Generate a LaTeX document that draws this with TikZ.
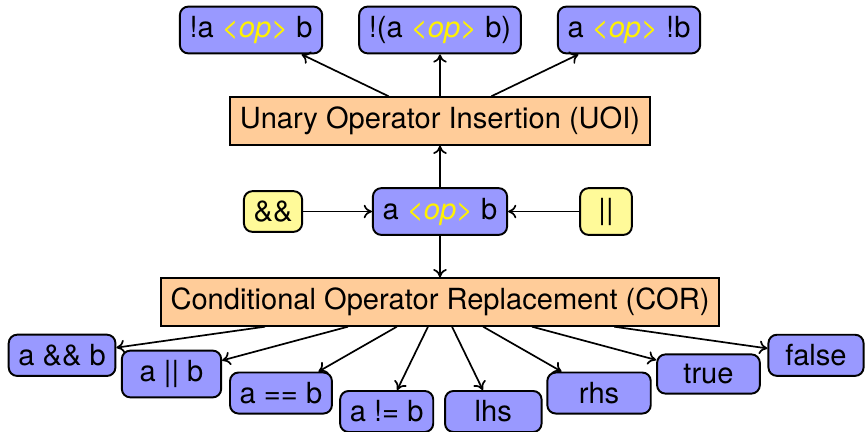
\documentclass[tikz,border=0pt]{standalone}
\usepackage{fontspec}
\setmainfont{TeX Gyre Heros}
\usepackage{xcolor}
\usetikzlibrary{arrows.meta,positioning}
\newcommand{\opsym}{\textcolor{yellow}{\textit{<op>}}}
\tikzset{operbox/.style={draw=black,fill=orange!40,thick,inner sep=4pt,font=\large},exprbox/.style={draw=black,fill=blue!40,thick,rounded corners=3.5pt,inner sep=4pt,font=\large},tokbox/.style={draw=black,fill=yellow!40,thick,rounded corners=3.5pt,inner sep=4pt,minimum width=.75cm,font=\large},resbox/.style={exprbox,minimum width=1.4cm},link/.style={draw=black,line width=.7pt,-{To[length=3.4pt,width=5.6pt]}}}

\begin{document}
\begin{tikzpicture}
\useasboundingbox (0,0) rectangle (12.586,-6.264);
% the two operator classes
\node[operbox] (uoi) at (6.38,-1.755) {Unary Operator Insertion (UOI)};
\node[operbox] (cor) at (6.38,-4.379) {Conditional Operator Replacement (COR)};
% original expression and its operators
\node[exprbox] (expr) at (6.38,-3.067) {a \opsym{} b};
\node[tokbox] (andop) at (3.959,-3.067) {\&\&};
\node[tokbox] (orop) at (8.787,-3.067) {||};
% UOI mutants
\node[exprbox] (negl) at (3.64,-.435) {!a \opsym{} b};
\node[exprbox] (negall) at (6.38,-.435) {!(a \opsym{} b)};
\node[exprbox] (negr) at (9.121,-.435) {a \opsym{} !b};
% COR mutants
\node[resbox] (mand) at (.9,-5.152) {a \&\& b};
\node[resbox,minimum width=1.44cm] (mor) at (2.487,-5.423) {a || b};
\node[resbox] (meq) at (4.074,-5.699) {a == b};
\node[resbox,minimum width=1.35cm] (mne) at (5.607,-5.967) {a != b};
\node[resbox] (mlhs) at (7.153,-5.967) {lhs};
\node[resbox,minimum width=1.5cm] (mrhs) at (8.686,-5.699) {rhs};
\node[resbox,minimum width=1.49cm] (mtrue) at (10.273,-5.423) {true};
\node[resbox,minimum width=1.38cm] (mfalse) at (11.832,-5.152) {false};

\draw[link] (andop) -- (expr);
\draw[link] (orop) -- (expr);
\draw[link] (expr) -- (uoi);
\draw[link] (expr) -- (cor);
\foreach \m in {negl,negall,negr}{\draw[link] (uoi) -- (\m);}
\foreach \m in {mand,mor,meq,mne,mlhs,mrhs,mtrue,mfalse}{\draw[link] (cor) -- (\m);}
\end{tikzpicture}
\end{document}
